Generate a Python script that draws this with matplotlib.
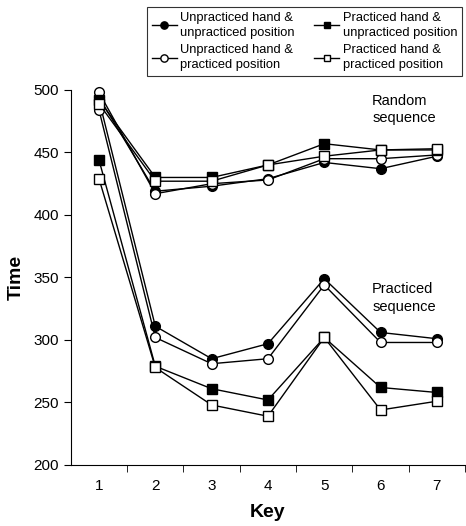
import matplotlib
matplotlib.use("Agg")
import matplotlib.pyplot as plt

plt.rcParams['font.family'] = ['Liberation Sans', 'DejaVu Sans']

keys = [1, 2, 3, 4, 5, 6, 7]

# random sequence
rand_uh_up = [494, 419, 423, 429, 442, 437, 447]
rand_uh_pp = [498, 417, 425, 428, 445, 445, 448]
rand_ph_up = [492, 430, 430, 440, 457, 452, 452]
rand_ph_pp = [489, 427, 427, 440, 447, 452, 453]

# practiced sequence
prac_uh_up = [492, 311, 285, 297, 349, 306, 301]
prac_uh_pp = [484, 302, 281, 285, 344, 298, 298]
prac_ph_up = [444, 279, 261, 252, 302, 262, 258]
prac_ph_pp = [429, 278, 248, 239, 302, 244, 251]

labels = ["Unpracticed hand &\nunpracticed position",
          "Unpracticed hand &\npracticed position",
          "Practiced hand &\nunpracticed position",
          "Practiced hand &\npracticed position"]

fig = plt.figure(figsize=(4.66, 5.26), dpi=100)
ax = fig.add_axes([0.152, 0.116, 0.846, 0.713])

styles = [('o', 'black'), ('o', 'white'), ('s', 'black'), ('s', 'white')]
rand = [rand_uh_up, rand_uh_pp, rand_ph_up, rand_ph_pp]
prac = [prac_uh_up, prac_uh_pp, prac_ph_up, prac_ph_pp]

handles = []
for (m, fc), r, p, lab in zip(styles, rand, prac, labels):
    ms = 7 if m == 'o' else 6.5
    h, = ax.plot(keys, r, marker=m, color='black', mfc=fc, mec='black',
                 ms=ms, lw=1, mew=1, label=lab, clip_on=False)
    ax.plot(keys, p, marker=m, color='black', mfc=fc, mec='black',
            ms=ms, lw=1, mew=1, clip_on=False)
    handles.append(h)

ax.set_xlim(0.5, 7.5)
ax.set_ylim(200, 500)
ax.set_yticks(range(200, 501, 50))
ax.set_xticks(keys)
ax.set_xticks([1.5, 2.5, 3.5, 4.5, 5.5, 6.5, 7.5], minor=True)
ax.tick_params(axis='x', which='major', length=0, pad=10, labelsize=11)
ax.tick_params(axis='x', which='minor', length=5, direction='out')
ax.tick_params(axis='y', length=5, direction='out', labelsize=11)
for s in ['top', 'right']:
    ax.spines[s].set_visible(False)

ax.set_xlabel("Key", fontsize=14, fontweight='bold', labelpad=8)
ax.set_ylabel("Time", fontsize=14, fontweight='bold', labelpad=6)

ax.text(5.85, 497, "Random\nsequence", fontsize=10.5, va='top', ha='left',
        linespacing=1.3)
ax.text(5.85, 346, "Practiced\nsequence", fontsize=10.5, va='top', ha='left',
        linespacing=1.3)

leg = fig.legend(handles=handles, loc='upper left', ncol=2,
                 bbox_to_anchor=(141 / 466, 1 - 1 / 526), fontsize=9.3,
                 frameon=True, fancybox=False, edgecolor='black',
                 handlelength=1.9, handletextpad=0.3, columnspacing=1.5,
                 labelspacing=0.45, borderpad=0.35, markerscale=0.75)
for t in leg.get_texts():
    t.set_linespacing(1.3)
leg.get_frame().set_linewidth(0.8)

fig.savefig("out.png", dpi=100)
